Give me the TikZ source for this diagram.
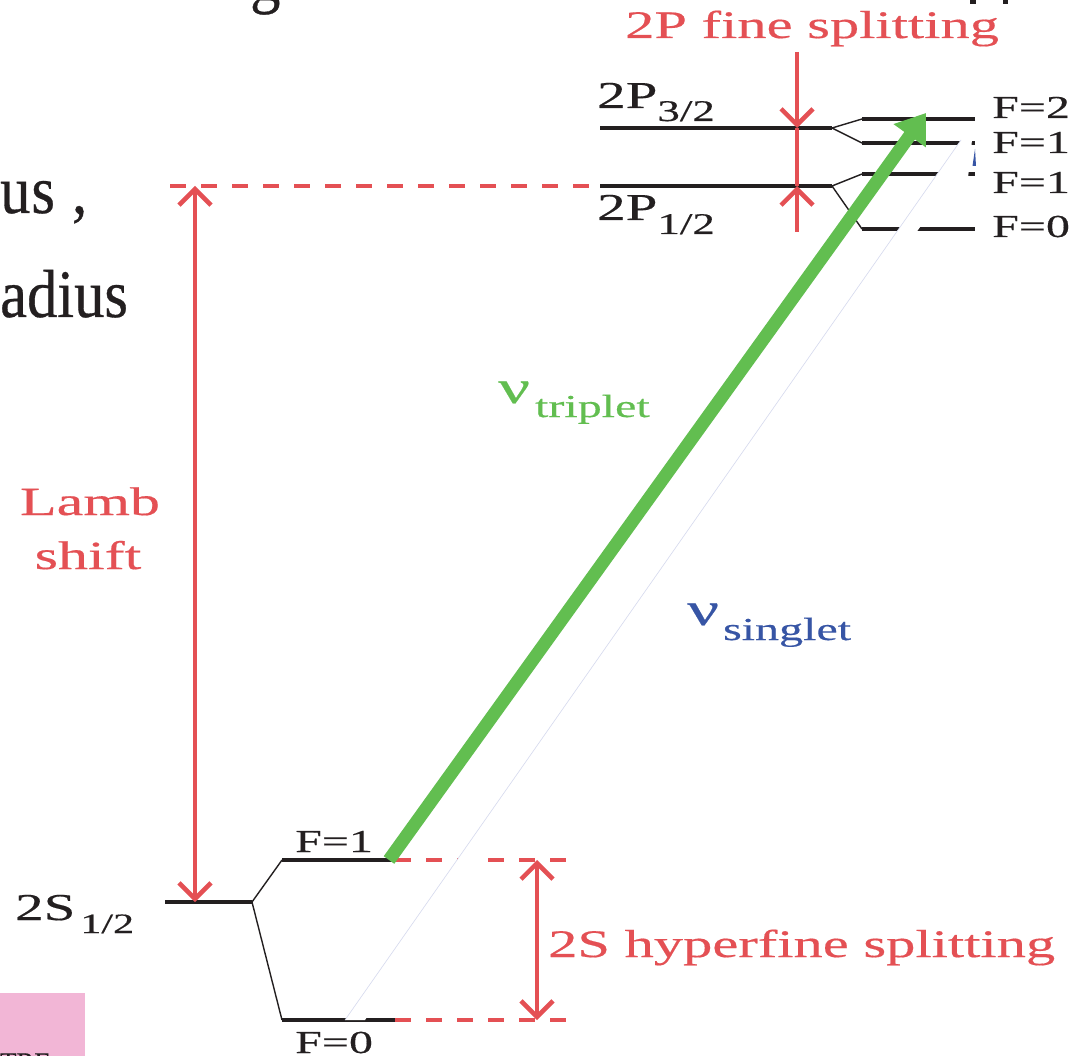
\documentclass[tikz,border=0pt]{standalone}
\usepackage{fontspec}
\setmainfont{Liberation Serif}[FakeStretch=1.5,FakeBold=0.4]
\newfontfamily\bodyfont{Liberation Serif}[FakeStretch=0.89,FakeBold=0.5]
\usetikzlibrary{arrows.meta}
\definecolor{lred}{RGB}{228,80,84}
\definecolor{lgreen}{RGB}{98,190,80}
\definecolor{lblue}{RGB}{55,85,165}
\definecolor{lpink}{RGB}{242,182,214}
\definecolor{edgeblue}{RGB}{214,218,238}
\definecolor{ink}{RGB}{35,31,32}
\newcommand\fsz[1]{\fontsize{#1}{#1}\selectfont}
\begin{document}
\begin{tikzpicture}[x=1pt,y=-1pt,
  level/.style={line width=4pt, ink},
  thinline/.style={line width=1.4pt, ink},
  redline/.style={line width=4.5pt, lred},
  reddash/.style={line width=4.5pt, lred, dash pattern=on 16pt off 15pt},
  lbl/.style={inner sep=0pt, anchor=base west},
  >={Straight Barb[length=16pt,width=32pt]}]
\useasboundingbox (0,0) rectangle (1092,1056);
\fill[white] (0,0) rectangle (1092,1056);

% background slide remnants
\fill[lpink] (0,993) rectangle (85,1056);
\node[lbl, text=ink] (tre) at (0,1073) {\bodyfont\fsz{30}TRE};
\node[lbl, text=ink] (us) at (0,213) {\bodyfont\fsz{68}u\hspace{1pt}s\hspace{2pt} ,};
\node[lbl, text=ink] (adius) at (0,317) {\bodyfont\fsz{68}adius};
\node[lbl, text=ink] (gg) at (250,0) {\bodyfont\fsz{68}g};
\fill[ink] (970,0) rectangle (976,4);
\fill[ink] (1003,0) rectangle (1008,4);

% coordinates of levels
\coordinate (s2a) at (165,902); \coordinate (s2b) at (252,902);
\coordinate (s1a) at (282,860); \coordinate (s1b) at (395,860);
\coordinate (s0a) at (282,1020); \coordinate (s0b) at (395,1020);
\coordinate (p3a) at (600,128); \coordinate (p3b) at (832,128);
\coordinate (p1a) at (600,186); \coordinate (p1b) at (832,186);
\coordinate (f2a) at (862,119); \coordinate (f2b) at (975,119);
\coordinate (f1ua) at (862,143); \coordinate (f1ub) at (975,143);
\coordinate (f1la) at (862,174); \coordinate (f1lb) at (975,174);
\coordinate (f0a) at (862,229); \coordinate (f0b) at (975,229);

% levels
\draw[level] (s2a) -- (s2b);
\draw[level] (s1a) -- (s1b);
\draw[level] (s0a) -- (s0b);
\draw[level] (p3a) -- (p3b);
\draw[level] (p1a) -- (p1b);
\draw[level] (f2a) -- (f2b);
\draw[level] (f1ua) -- (f1ub);
\draw[level] (f1la) -- (f1lb);
\draw[level] (f0a) -- (f0b);
\draw[thinline] (s1a) -- (s2b) -- (s0a);
\draw[thinline] (f2a) -- (p3b) -- (f1ua);
\draw[thinline] (f1la) -- (p1b) -- (f0a);

% dashed red extensions
\coordinate (lt) at (170,186);
\coordinate (h1) at (568,860);
\coordinate (h0) at (568,1020);
\draw[reddash] (lt) -- (p1a);
\draw[reddash] (s1b) -- (h1);
\draw[reddash] (s0b) -- (h0);

% red arrows
\coordinate (lambtop) at (195,186);
\coordinate (lambbot) at (195,902);
\draw[redline, <->] (lambbot) -- (lambtop);
\coordinate (hft) at (537,860);
\coordinate (hfb) at (537,1020);
\draw[redline, <->] (hfb) -- (hft);
\coordinate (fa) at (797,52);
\coordinate (fb) at (797,128);
\coordinate (fc) at (797,186);
\coordinate (fd) at (797,232);
\draw[redline, ->] (fa) -- (fb);
\draw[redline] (fb) -- (fc);
\draw[redline, ->] (fd) -- (fc);

% singlet arrow (white band)
\coordinate (wb1) at (345,1020);
\coordinate (wb2) at (365,1020);
\coordinate (wb3) at (939,200);
\coordinate (wb4) at (968,178);
\coordinate (wb5) at (972,140);
\coordinate (wb6) at (961,140);
\fill[white] (wb1) -- (wb2) -- (wb3) -- (wb4) -- (wb5) -- (wb6) -- cycle;
\draw[edgeblue, line width=0.6pt] (wb1) -- (wb6);
\fill[lblue] (972.5,166) -- (976,166) -- (975,149) -- cycle;

% triplet arrow
\coordinate (gs) at (389,860);
\coordinate (gt) at (926,113);
\draw[lgreen, line width=13pt, -{Triangle[length=28pt,width=38pt]}] (gs) -- (gt);

% labels
\node[lbl, text=lred] (fine) at (625,38) {\fsz{39}2P fine splitting};
\node[lbl, text=ink] (l3) at (597,108) {\fsz{38}2P\raisebox{-13pt}{\fsz{30}3/2}};
\node[lbl, text=ink] (l1) at (597,220) {\fsz{38}2P\raisebox{-14pt}{\fsz{30}1/2}};
\node[lbl, text=ink] (l2s) at (15,920) {\fsz{38}2S\hspace{5pt}\raisebox{-13pt}{\fsz{28}1/2}};
\node[lbl, text=ink] (fs1) at (295,852) {\fsz{32}F=1};
\node[lbl, text=ink] (fs0) at (295,1053) {\fsz{32}F=0};
\node[lbl, text=ink] (fp2) at (992,118) {\fsz{32}F=2};
\node[lbl, text=ink] (fp1u) at (992,153) {\fsz{32}F=1};
\node[lbl, text=ink] (fp1l) at (992,193) {\fsz{32}F=1};
\node[lbl, text=ink] (fp0) at (992,237) {\fsz{32}F=0};
\node[inner sep=0pt, anchor=base, text=lred] (lamb) at (90,515) {\fsz{40}Lamb};
\node[inner sep=0pt, anchor=base, text=lred] (shift) at (88,569) {\fsz{40}shift};
\node[lbl, text=lred] (hfs) at (548,957) {\fsz{39}2S hyperfine splitting};
\node[lbl, text=lgreen] (trip) at (498,403) {\fsz{47}ν\hspace{5pt}\raisebox{-14pt}{\fsz{32}triplet}};
\node[lbl, text=lblue] (sing) at (687,625) {\fsz{47}ν\hspace{4pt}\raisebox{-15pt}{\fsz{32}singlet}};
\end{tikzpicture}
\end{document}
